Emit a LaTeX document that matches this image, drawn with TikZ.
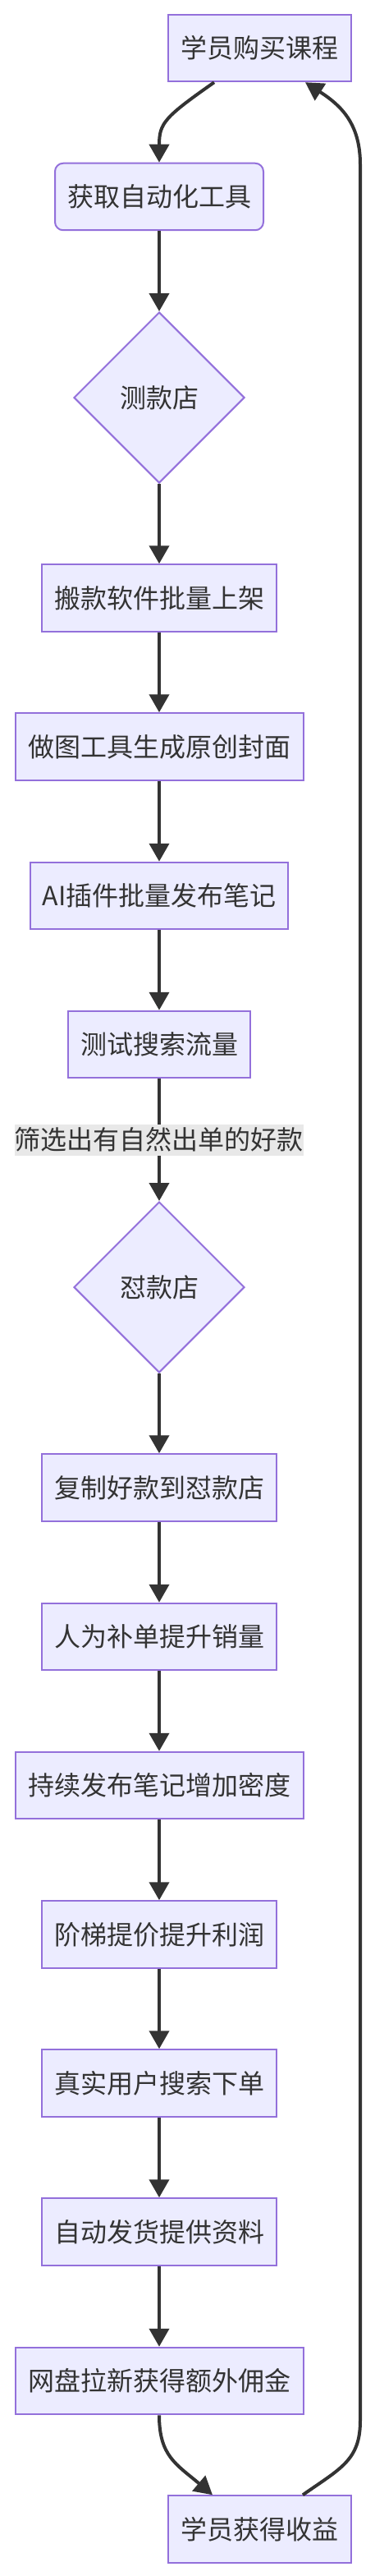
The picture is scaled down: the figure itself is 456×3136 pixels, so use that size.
\documentclass[tikz,border=0pt]{standalone}
\usepackage{fontspec}
\newfontfamily\cjk{Noto Sans CJK SC}
\usetikzlibrary{shapes.geometric,arrows.meta}
\definecolor{nodefill}{HTML}{ECECFF}
\definecolor{nodeline}{HTML}{9370DB}
\definecolor{edgecol}{HTML}{333333}
\definecolor{lblbg}{HTML}{E8E8E8}
\begin{document}
\begin{tikzpicture}[x=0.5pt,y=-0.5pt,
  every node/.style={font=\cjk\fontsize{16pt}{18pt}\selectfont, text=edgecol},
  box/.style={draw=nodeline, fill=nodefill, line width=1pt, rectangle, inner sep=0pt, minimum height=40.75pt, align=center},
  rbox/.style={box, rounded corners=5pt},
  dia/.style={draw=nodeline, fill=nodefill, line width=1pt, diamond, inner sep=0pt, minimum width=104pt, minimum height=104pt},
  edge/.style={draw=edgecol, line width=2pt, -{Triangle[length=11pt,width=12pt]}},
  lbl/.style={fill=lblbg, inner sep=0pt, minimum width=175.5pt, minimum height=19pt}
]
\useasboundingbox (0,0) rectangle (456,3136);

\node[box, minimum width=111.5pt] (A) at (316.5,58.5) {学员购买课程};
\node[rbox, minimum width=127pt] (B) at (194,239.5) {获取自动化工具};
\node[dia] (D1) at (194,484) {测款店};
\node[box, minimum width=143pt] (C1) at (194,728) {搬款软件批量上架};
\node[box, minimum width=175.5pt] (C2) at (194,909) {做图工具生成原创封面};
\node[box, minimum width=157pt] (C3) at (194,1090.5) {AI插件批量发布笔记};
\node[box, minimum width=111pt] (C4) at (194,1271.5) {测试搜索流量};
\node[dia] (D2) at (194,1567) {怼款店};
\node[box, minimum width=143pt] (C5) at (194,1811) {复制好款到怼款店};
\node[box, minimum width=143pt] (C6) at (194,1992.5) {人为补单提升销量};
\node[box, minimum width=175.5pt] (C7) at (194,2173.5) {持续发布笔记增加密度};
\node[box, minimum width=143pt] (C8) at (194,2355) {阶梯提价提升利润};
\node[box, minimum width=143pt] (C9) at (194,2536) {真实用户搜索下单};
\node[box, minimum width=143pt] (C10) at (194,2717) {自动发货提供资料};
\node[box, minimum width=175.5pt] (C11) at (194,2898.5) {网盘拉新获得额外佣金};
\node[box, minimum width=111.5pt] (E) at (316.5,3079) {学员获得收益};

% A -> B (curved)
\draw[edge] ([xshift=28.5pt]A.south west) .. controls (200,143) and (194,150) .. (B.north);
\draw[edge] (B) -- (D1.north);
\draw[edge] (D1.south) -- (C1);
\draw[edge] (C1) -- (C2);
\draw[edge] (C2) -- (C3);
\draw[edge] (C3) -- (C4);
\draw[edge] (C4) -- node[lbl] (L) {筛选出有自然出单的好款} (D2.north);
\draw[edge] (D2.south) -- (C5);
\draw[edge] (C5) -- (C6);
\draw[edge] (C6) -- (C7);
\draw[edge] (C7) -- (C8);
\draw[edge] (C8) -- (C9);
\draw[edge] (C9) -- (C10);
\draw[edge] (C10) -- (C11);
% C11 -> E (curved)
\draw[edge] (C11.south) .. controls (194,2990) and (215,3000) .. ([xshift=27.5pt]E.north west);
% E -> A loop
\draw[edge] ([xshift=82.5pt]E.north west) .. controls (415,3005) and (439,2995) .. (439,2947)
  -- (439,200) .. controls (439,150) and (415,128) .. ([xshift=84pt]A.south west);
\end{tikzpicture}
\end{document}
